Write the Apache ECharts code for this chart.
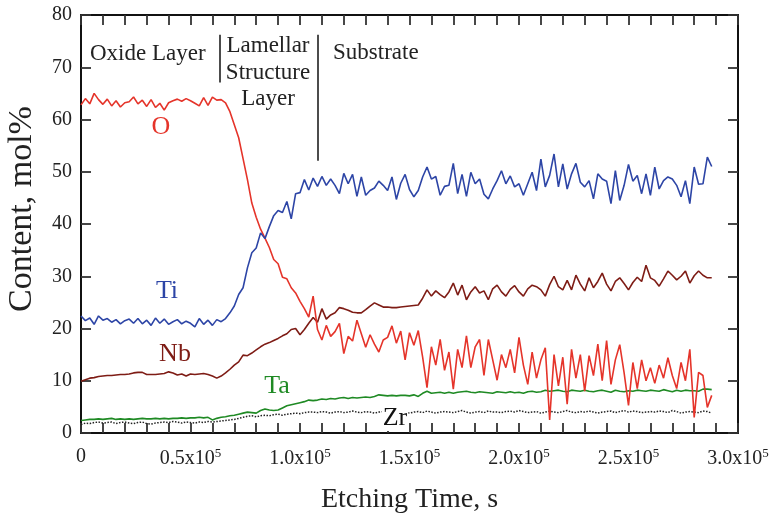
<!DOCTYPE html>
<html><head><meta charset="utf-8">
<script src="https://cdn.jsdelivr.net/npm/echarts@6/dist/echarts.min.js"></script>
<style>html,body{margin:0;padding:0;background:#fff}#c{width:775px;height:519px}</style>
</head><body><div id="c"></div>
<script>
// Etching time in units of 10^3 s
const timeKs = [0,2,4,6,8,10,12,14,16,18,20,22,24,26,28,30,32,34,36,38,40,42,44,46,48,50,52,54,56,58,60,62,64,66,68,70,72,74,76,78,80,82,84,86,88,90,92,94,96,98,100,102,104,106,108,110,112,114,116,118,120,122,124,126,128,130,132,134,136,138,140,142,144,146,148,150,152,154,156,158,160,162,164,166,168,170,172,174,176,178,180,182,184,186,188,190,192,194,196,198,200,202,204,206,208,210,212,214,216,218,220,222,224,226,228,230,232,234,236,238,240,242,244,246,248,250,252,254,256,258,260,262,264,266,268,270,272,274,276,278,280,282,284,286,288];

const O = [62.8,64.0,63.0,65.0,63.8,62.9,63.9,62.6,63.6,62.4,
63.2,63.4,64.3,63.0,63.7,62.5,63.8,62.3,63.1,61.8,
63.2,63.6,63.9,63.5,64.0,63.6,63.1,62.6,64.2,62.7,
64.3,63.7,63.8,63.2,61.5,59.0,56.5,52.5,48.5,44.0,
41.3,39.0,37.3,35.5,33.2,32.4,29.8,29.5,27.8,26.8,
25.2,23.8,22.2,26.2,19.8,17.8,20.6,18.5,19.4,21.0,
15.2,18.5,17.6,21.6,19.0,16.4,18.8,17.0,15.5,17.8,
18.3,20.5,17.2,19.5,14.0,19.2,16.8,19.6,14.5,8.7,
16.5,13.0,17.9,12.0,15.5,8.4,16.0,12.5,18.6,12.5,
16.5,17.9,11.0,17.9,14.0,10.1,15.0,12.5,16.0,11.5,
18.3,13.0,9.3,15.5,10.5,14.0,16.3,2.5,15.0,9.0,
14.5,5.5,16.0,10.5,15.0,8.0,14.8,11.0,17.0,10.0,
17.7,9.3,14.0,16.9,11.5,5.3,13.5,8.5,14.0,10.0,
12.5,9.5,13.0,10.5,14.4,11.0,8.5,13.5,10.0,16.0,
3.0,11.6,11.0,4.9,7.2];

const Ti = [22.4,21.5,22.0,20.8,22.4,21.6,21.9,21.2,21.7,20.9,
21.5,21.8,21.0,21.9,20.9,21.6,20.6,22.0,21.0,21.8,
20.8,21.3,21.7,20.9,21.4,21.0,20.3,21.9,20.8,21.6,
20.6,21.7,21.3,21.9,23.0,24.3,26.5,27.8,31.6,34.5,
35.4,38.3,37.2,39.5,41.6,42.6,42.2,44.3,41.0,45.8,
46.0,48.5,46.5,48.8,47.2,49.1,47.4,48.6,47.4,45.8,
49.7,47.7,49.5,45.3,49.0,45.5,46.4,46.9,48.2,47.4,
46.4,49.0,44.7,47.8,49.5,46.6,45.2,46.4,49.0,50.9,
48.6,49.1,45.5,47.2,47.4,51.6,45.8,49.5,45.3,49.9,
47.7,48.6,45.7,44.8,46.7,48.3,50.2,47.7,49.2,47.1,
47.7,45.5,47.7,49.9,46.4,52.4,47.1,49.3,53.4,47.1,
51.5,46.7,49.6,51.6,48.0,47.1,48.3,44.8,49.6,48.6,
48.2,43.9,50.2,44.5,47.4,51.4,48.2,49.3,45.8,49.6,
45.5,50.9,46.7,48.3,49.0,48.6,47.4,45.2,48.3,43.9,
50.9,47.6,47.7,52.8,51.0];

const Nb = [9.9,10.2,10.5,10.6,10.8,10.9,11.0,11.0,11.1,11.2,
11.2,11.3,11.5,11.6,11.6,11.2,11.2,11.2,11.3,11.4,
11.7,11.5,11.1,11.3,10.9,11.3,11.2,11.3,11.4,11.2,
10.9,10.5,10.9,11.5,12.2,13.0,13.6,14.9,14.8,15.3,
15.9,16.5,17.0,17.3,17.7,18.1,18.6,19.0,19.8,20.0,
18.8,19.8,21.0,22.1,21.2,23.8,21.8,22.6,23.0,24.0,
23.8,23.5,23.1,23.0,23.0,23.6,24.3,24.9,24.5,24.1,
24.1,24.0,24.0,24.1,24.2,24.3,24.4,24.5,25.8,27.4,
26.2,27.2,26.5,25.9,27.0,28.7,26.4,28.3,25.5,27.0,
28.0,26.8,27.2,25.5,27.6,28.3,27.0,26.2,27.5,28.2,
27.0,26.2,27.6,28.3,28.0,27.4,26.2,28.4,30.0,28.0,
27.4,29.2,27.4,30.2,28.5,27.2,29.7,27.8,29.0,30.6,
28.5,27.2,29.0,29.7,28.6,27.4,28.8,29.8,29.0,32.1,
29.7,29.2,28.1,29.5,31.0,30.2,29.3,30.0,31.0,28.7,
30.1,31.0,30.2,29.7,29.7];

const Ta = [2.4,2.5,2.6,2.6,2.7,2.6,2.7,2.8,2.6,2.7,
2.6,2.7,2.6,2.7,2.8,2.7,2.7,2.8,2.7,2.8,
2.7,2.8,2.8,2.9,2.8,2.9,2.9,3.0,2.9,3.0,
2.5,2.8,3.0,3.1,3.3,3.4,3.6,3.8,4.0,3.9,
3.8,4.3,4.6,4.4,4.3,4.4,4.8,5.2,5.4,5.6,
5.8,6.0,6.3,6.2,6.3,6.5,6.4,6.6,6.5,6.7,
6.8,6.6,6.8,6.7,6.8,6.9,6.8,7.0,7.3,7.2,
7.1,7.2,7.1,7.2,7.2,7.1,7.3,7.0,7.6,8.0,
7.6,7.7,7.8,7.6,7.8,7.6,7.8,7.9,8.0,7.8,
7.7,7.9,7.8,7.7,7.6,7.9,7.8,7.7,7.9,7.7,
7.8,7.6,7.9,8.0,7.8,7.9,8.2,8.0,8.1,8.2,
8.0,7.9,8.2,8.1,8.0,8.2,8.0,7.9,8.1,8.2,
8.0,7.8,8.2,8.0,7.9,8.1,8.0,8.2,8.1,8.0,
8.2,8.1,8.0,8.3,8.1,7.9,8.2,8.0,8.2,8.1,
8.1,8.0,8.4,8.4,8.3];

const Zr = [1.6,1.9,1.8,2.0,2.1,1.9,2.0,2.1,1.8,2.0,
2.1,1.9,1.8,2.0,2.1,1.8,1.7,1.9,2.0,2.1,
2.0,2.2,2.1,1.9,2.1,2.0,1.9,2.1,2.0,2.2,
2.1,2.2,2.3,2.4,2.5,2.6,2.8,3.0,3.2,3.3,
3.1,3.3,3.4,3.3,3.5,3.6,3.4,3.6,3.7,3.8,
3.7,3.9,4.0,4.0,3.9,4.1,4.0,3.8,4.0,4.1,
3.9,4.0,4.2,4.0,3.9,4.1,4.0,3.8,4.0,4.1,
4.0,3.9,4.2,4.1,4.0,3.8,4.0,4.1,3.9,4.2,
4.0,3.8,4.0,4.1,4.0,3.9,4.1,4.3,4.0,3.8,
4.0,4.1,3.9,4.2,4.0,4.0,3.9,4.1,4.2,4.0,
4.3,4.1,3.9,4.0,4.1,3.8,4.0,4.2,4.0,3.9,
4.1,4.3,4.0,3.9,4.1,4.0,4.2,4.0,3.8,4.0,
4.1,4.2,3.9,4.1,4.3,4.0,4.2,4.1,3.9,4.0,
4.1,4.0,4.2,4.1,3.9,4.3,4.1,3.8,4.0,4.1,
4.0,3.9,4.2,4.1,3.8];

// Layer boundaries (time in ks) and tick labels
const boundaries = [{t: 63.5, top: 76.2, bottom: 67.1}, {t: 107.9, top: 76.2, bottom: 52.1}];
const xTickLabels = ['0', '0.5', '1.0', '1.5', '2.0', '2.5', '3.0'];

const FONT = '"Liberation Serif", "DejaVu Serif", serif';
const colors = {O: '#e5342a', Ti: '#2d45a6', Nb: '#7e1c15', Ta: '#1f8a24', Zr: '#222222'};

function pairs(arr) { return timeKs.map((t, i) => [t, arr[i]]); }
function tickStyle() { return {show: true, inside: true, length: 10, lineStyle: {color: '#333', width: 1.8}}; }
function lineAx() { return {show: true, onZero: false, lineStyle: {color: '#111', width: 2}}; }

const chart = echarts.init(document.getElementById('c'), null, {renderer: 'canvas'});

function lineSeries(name, data, color, extra) {
  return Object.assign({
    name: name, type: 'line', data: pairs(data), showSymbol: false, symbol: 'none',
    lineStyle: {color: color, width: 1.6}, itemStyle: {color: color}, silent: true,
    animation: false, z: 3
  }, extra || {});
}

chart.setOption({
  animation: false,
  backgroundColor: '#fff',
  grid: {left: 81, right: 37, top: 15, bottom: 83, containLabel: false},
  xAxis: [{
    type: 'value', min: 0, max: 300, interval: 10, position: 'bottom',
    axisLine: lineAx(), axisTick: tickStyle(), splitLine: {show: false},
    axisLabel: {
      interval: 0, margin: 14, color: '#222', fontFamily: FONT, fontSize: 20, hideOverlap: false,
      formatter: function (v) {
        if (v % 50 !== 0) return '';
        const lab = xTickLabels[v / 50];
        if (v === 0) return '{a|' + lab + '}';
        return '{a|' + lab + 'x10}{s|5}';
      },
      rich: {
        a: {fontFamily: FONT, fontSize: 20, color: '#222'},
        s: {fontFamily: FONT, fontSize: 13, color: '#222', padding: [0, 0, 10, 0]}
      }
    },
    name: 'Etching Time, s', nameLocation: 'middle', nameGap: 53,
    nameTextStyle: {fontFamily: FONT, fontSize: 28, color: '#222'}
  }, {
    type: 'value', min: 0, max: 300, interval: 10, position: 'top',
    axisLine: lineAx(), axisTick: tickStyle(), axisLabel: {show: false}, splitLine: {show: false}
  }],
  yAxis: [{
    type: 'value', min: 0, max: 80, interval: 10, position: 'left',
    axisLine: lineAx(), axisTick: tickStyle(), splitLine: {show: false},
    axisLabel: {margin: 9, color: '#222', fontFamily: FONT, fontSize: 20}
  }, {
    type: 'value', min: 0, max: 80, interval: 10, position: 'right',
    axisLine: lineAx(), axisTick: tickStyle(), axisLabel: {show: false}, splitLine: {show: false}
  }],
  series: [
    lineSeries('Zr', Zr, colors.Zr, {
      lineStyle: {color: colors.Zr, width: 1.5, type: 'dotted'},
      markLine: {
        silent: true, symbol: ['none', 'none'], animation: false,
        lineStyle: {color: '#111', width: 1.5, type: 'solid'},
        label: {show: false},
        data: boundaries.map(b => [{coord: [b.t, b.top]}, {coord: [b.t, b.bottom]}])
      }
    }),
    lineSeries('Ta', Ta, colors.Ta),
    lineSeries('Nb', Nb, colors.Nb),
    lineSeries('O', O, colors.O),
    lineSeries('Ti', Ti, colors.Ti)
  ],
  graphic: [
    {type: 'text', x: 22, y: 209, rotation: Math.PI / 2, style: {text: 'Content, mol%', font: '34px ' + FONT, fill: '#222', textAlign: 'center', textVerticalAlign: 'middle'}, silent: true},
    {type: 'text', x: 90, y: 53.5, style: {text: 'Oxide Layer', font: '23px ' + FONT, fill: '#222', textVerticalAlign: 'middle'}, silent: true},
    {type: 'text', x: 268, y: 46, style: {text: 'Lamellar', font: '23px ' + FONT, fill: '#222', textAlign: 'center', textVerticalAlign: 'middle'}, silent: true},
    {type: 'text', x: 268, y: 72.5, style: {text: 'Structure', font: '23px ' + FONT, fill: '#222', textAlign: 'center', textVerticalAlign: 'middle'}, silent: true},
    {type: 'text', x: 268, y: 98.5, style: {text: 'Layer', font: '23px ' + FONT, fill: '#222', textAlign: 'center', textVerticalAlign: 'middle'}, silent: true},
    {type: 'text', x: 333, y: 53, style: {text: 'Substrate', font: '23px ' + FONT, fill: '#222', textVerticalAlign: 'middle'}, silent: true},
    {type: 'text', x: 161, y: 127, style: {text: 'O', font: '26px ' + FONT, fill: colors.O, textAlign: 'center', textVerticalAlign: 'middle'}, silent: true},
    {type: 'text', x: 167, y: 291, style: {text: 'Ti', font: '26px ' + FONT, fill: colors.Ti, textAlign: 'center', textVerticalAlign: 'middle'}, silent: true},
    {type: 'text', x: 175, y: 354, style: {text: 'Nb', font: '26px ' + FONT, fill: colors.Nb, textAlign: 'center', textVerticalAlign: 'middle'}, silent: true},
    {type: 'text', x: 277, y: 386, style: {text: 'Ta', font: '26px ' + FONT, fill: colors.Ta, textAlign: 'center', textVerticalAlign: 'middle'}, silent: true},
    {type: 'text', x: 395, y: 418, z: 10, style: {text: 'Zr', font: '26px ' + FONT, fill: '#111', textAlign: 'center', textVerticalAlign: 'middle', backgroundColor: '#fff', padding: [0, 1]}, silent: true}
  ]
});
</script>
</body></html>
